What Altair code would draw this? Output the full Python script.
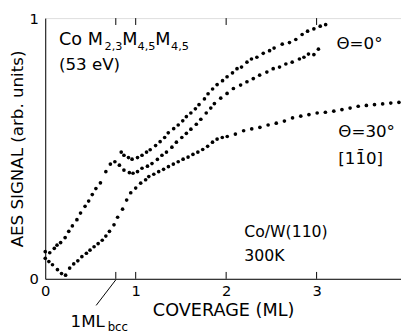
import altair as alt
import pandas as pd

# Curve readings (coverage in ML, signal in arb. units)
a_x = [0.00,0.05,0.10,0.13,0.17,0.22,0.26,0.30,0.35,0.39,0.44,0.48,0.52,0.56,0.61,0.67,0.72,0.77,0.82,0.87,0.93,0.97,1.02,1.07,1.13,1.18,1.24,1.29,1.34,1.40,1.45,1.51,1.56,1.61,1.67,1.72,1.78,1.83,1.87,1.94,2.01,2.08,2.16,2.23,2.30,2.37,2.45,2.52,2.59,2.66,2.73,2.81,2.86,2.91,2.97,3.02]
a_y = [0.104,0.100,0.117,0.129,0.139,0.158,0.182,0.203,0.227,0.252,0.278,0.298,0.323,0.346,0.368,0.411,0.440,0.449,0.436,0.417,0.407,0.405,0.411,0.424,0.432,0.442,0.458,0.474,0.486,0.505,0.524,0.542,0.558,0.574,0.593,0.612,0.636,0.655,0.672,0.693,0.711,0.730,0.743,0.756,0.768,0.781,0.793,0.806,0.812,0.824,0.831,0.843,0.850,0.862,0.860,0.881]

b_x = [0.84,0.87,0.92,0.96,1.02,1.07,1.12,1.16,1.22,1.27,1.32,1.36,1.42,1.47,1.52,1.56,1.61,1.66,1.70,1.76,1.80,1.85,1.90,1.96,2.01,2.07,2.12,2.17,2.23,2.28,2.34,2.41,2.48,2.53,2.62,2.70,2.77,2.84,2.90,2.97,3.04,3.10]
b_y = [0.486,0.474,0.465,0.459,0.465,0.474,0.486,0.495,0.511,0.526,0.542,0.560,0.576,0.590,0.606,0.622,0.636,0.652,0.668,0.690,0.710,0.728,0.745,0.760,0.775,0.790,0.806,0.812,0.831,0.843,0.850,0.865,0.875,0.885,0.900,0.906,0.918,0.937,0.950,0.959,0.969,0.975]

c_x = [0.00,0.04,0.08,0.135,0.18,0.225,0.27,0.315,0.36,0.405,0.455,0.495,0.54,0.585,0.63,0.67,0.71,0.76,0.80,0.855,0.90,0.945,1.00,1.055,1.11,1.145,1.20,1.254,1.308,1.362,1.416,1.47,1.524,1.579,1.633,1.687,1.741,1.795,1.849,1.90,1.957,2.012,2.102,2.193,2.283,2.373,2.464,2.554,2.644,2.734,2.825,2.915,3.006,3.097,3.19,3.28,3.37,3.46,3.55,3.64,3.73,3.82,3.91]
c_y = [0.079,0.066,0.054,0.035,0.020,0.014,0.041,0.057,0.069,0.085,0.098,0.110,0.123,0.135,0.148,0.164,0.182,0.207,0.236,0.267,0.302,0.330,0.348,0.367,0.380,0.392,0.401,0.411,0.420,0.430,0.440,0.449,0.459,0.467,0.477,0.486,0.496,0.508,0.524,0.536,0.542,0.546,0.555,0.568,0.575,0.581,0.590,0.597,0.605,0.617,0.624,0.630,0.636,0.639,0.643,0.649,0.655,0.662,0.665,0.668,0.671,0.674,0.677]

x_labels = [0, 1, 2, 3]
y_labels = [0, 1]
tick_positions = [0.78, 1, 2, 3]

# annotation texts
ann_text = ["Co M", "2,3", "M", "4,5", "M", "4,5", "(53 eV)", "Θ=0°", "Θ=30°", "[110]", "¯", "Co/W(110)", "300K", "1ML", "bcc"]
ann_x = [0.152, 0.655, 0.85, 1.02, 1.215, 1.39, 0.152, 3.22, 3.24, 3.24, 3.44, 2.20, 2.20, 0.28, 0.69]
ann_y = [0.895, 0.877, 0.895, 0.877, 0.895, 0.877, 0.80, 0.883, 0.545, 0.44, 0.451, 0.162, 0.068, -0.184, -0.20]
ann_size = [18, 11.5, 18, 11.5, 18, 11.5, 17, 17, 17, 17, 17, 16, 16, 17, 12]

pointer_x = [0.78]
pointer_y = [-0.004]
pointer_x2 = [0.563]
pointer_y2 = [-0.102]

pts = pd.concat([
    pd.DataFrame({"cov": a_x, "sig": a_y, "curve": "A"}),
    pd.DataFrame({"cov": b_x, "sig": b_y, "curve": "B"}),
    pd.DataFrame({"cov": c_x, "sig": c_y, "curve": "C"}),
])

FONT = "DejaVu Sans"
xscale = alt.Scale(domain=[0, 3.933], nice=False, zero=False)
yscale = alt.Scale(domain=[0, 1], nice=False, zero=False)

dots = alt.Chart(pts).mark_circle(size=14, color="black", opacity=1).encode(
    x=alt.X("cov:Q", scale=xscale,
            axis=alt.Axis(values=x_labels, format="d", ticks=False, tickSize=0, grid=False,
                          domainColor="black", labelColor="black", labelFontSize=15,
                          labelFont=FONT, labelPadding=5, title="COVERAGE (ML)",
                          titleFont=FONT, titleFontSize=18, titleFontWeight="normal",
                          titleColor="black", titlePadding=3, labelFlush=False)),
    y=alt.Y("sig:Q", scale=yscale,
            axis=alt.Axis(values=y_labels, format="d", ticks=False, tickSize=0, grid=False,
                          domainColor="black", labelColor="black", labelFontSize=15,
                          labelFont=FONT, labelPadding=7, title="AES SIGNAL (arb. units)",
                          titleFont=FONT, titleFontSize=17, titleFontWeight="normal",
                          titleColor="black", titlePadding=3, labelFlush=False)),
)

ticks_df = pd.DataFrame({"t": tick_positions})
bottom_ticks = alt.Chart(ticks_df).mark_rule(color="black", strokeWidth=1).encode(
    x=alt.X("t:Q", scale=xscale), y=alt.value(266), y2=alt.value(259))
top_ticks = alt.Chart(ticks_df).mark_rule(color="black", strokeWidth=1).encode(
    x=alt.X("t:Q", scale=xscale), y=alt.value(0), y2=alt.value(7))

ptr_df = pd.DataFrame({"x": pointer_x, "y": pointer_y, "x2": pointer_x2, "y2": pointer_y2})
pointer = alt.Chart(ptr_df).mark_rule(color="black", strokeWidth=1).encode(
    x=alt.X("x:Q", scale=xscale), y=alt.Y("y:Q", scale=yscale), x2="x2:Q", y2="y2:Q")

ann_df = pd.DataFrame({"x": ann_x, "y": ann_y, "text": ann_text, "size": ann_size})
ann = alt.Chart(ann_df).mark_text(align="left", baseline="alphabetic", font=FONT, color="black").encode(
    x=alt.X("x:Q", scale=xscale), y=alt.Y("y:Q", scale=yscale), text="text:N",
    size=alt.Size("size:Q", scale=None, legend=None))

chart = alt.layer(dots, bottom_ticks, top_ticks, pointer, ann).properties(
    width=363, height=266,
    padding={"left": 38, "top": 7, "right": 0, "bottom": 53},
    autosize="none",
).configure_view(stroke="black", strokeWidth=1).configure(background="white")

chart.save("out.html", embed_options={"renderer": "svg", "actions": False})
